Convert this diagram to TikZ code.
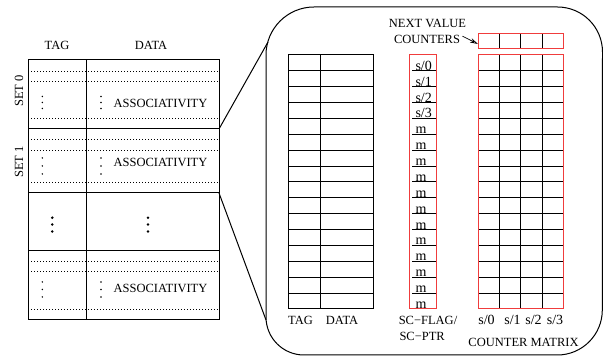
\documentclass[tikz,border=0pt]{standalone}
\usepackage{fontspec}
\setmainfont{Liberation Serif}
\usetikzlibrary{arrows.meta}
\definecolor{cellred}{HTML}{F03C3C}
\begin{document}
\begin{tikzpicture}[x=1pt,y=-1pt,line width=1pt,
  lbl/.style={inner sep=0pt,font=\fontsize{12.5}{14}\selectfont},
  slbl/.style={inner sep=0pt,font=\fontsize{14}{16}\selectfont},
  dotline/.style={line width=0.8pt,dash pattern=on 0.8pt off 2.2pt},
  redbox/.style={draw=cellred,line width=1pt},
  smalldot/.style={radius=0.8},
  bigdot/.style={radius=1.4}]
\useasboundingbox (0,0) rectangle (603,358);

% ---------------- cache organisation (left) ----------------
\draw (28,60) rectangle (219,320);
\draw (86,60) -- (86,320);
\foreach \y in {129,193,251} \draw (28,\y) -- (219,\y);
\foreach \y in {71,81,118,139,150,182,261,271,309}
  \draw[dotline] (28,\y) -- (219,\y);

\node[lbl,anchor=base] (hTag) at (57,50) {TAG};
\node[lbl,anchor=base] (hData) at (151,50) {DATA};
\node[lbl,rotate=90] (set0) at (19,91) {SET 0};
\node[lbl,rotate=90] (set1) at (19,162) {SET 1};

\node[lbl,anchor=base] (as0) at (160.5,108) {ASSOCIATIVITY};
\node[lbl,anchor=base] (as1) at (160.5,167) {ASSOCIATIVITY};
\node[lbl,anchor=base] (as3) at (160.5,293) {ASSOCIATIVITY};

% ways within a set
\foreach \x in {42.3,101} {
  \foreach \y in {96.5,102.5,108.5,158,166,174,282,289.5,297}
    \fill (\x,\y) circle[smalldot];
}
% further sets
\foreach \x in {52.3,148} {
  \foreach \y in {217.7,224.5,231.5}
    \fill (\x,\y) circle[bigdot];
}

% ---------------- enlarged set (right) ----------------
\draw (266,55) arc[start angle=180,end angle=270,radius=48]
  -- (557.5,7) arc[start angle=270,end angle=360,radius=45]
  -- (602.3,310) arc[start angle=0,end angle=90,radius=45]
  -- (304,355) arc[start angle=90,end angle=180,radius=38]
  -- cycle;

\coordinate (s0end) at (219,129);
\coordinate (s1end) at (219,193);
\coordinate (zoomTop) at (268,42);
\coordinate (zoomBot) at (266,320);
\draw (s0end) -- (zoomTop);
\draw (s1end) -- (zoomBot);

% tag / data array
\draw (288,55) rectangle (373,309);
\draw (320,55) -- (320,309);
\foreach \i in {1,...,15}
  \draw (288,{55+15.875*\i}) -- (373,{55+15.875*\i});

% SC-flag / SC-ptr column
\foreach \i in {1,...,15}
  \draw (412,{55+15.875*\i}) -- (436,{55+15.875*\i});
\node[slbl,anchor=base west] (f0) at (415,{55+15.875*1-0.5}) {s/0};
\node[slbl,anchor=base west] (f1) at (415,{55+15.875*2-0.5}) {s/1};
\node[slbl,anchor=base west] (f2) at (415,{55+15.875*3-0.5}) {s/2};
\node[slbl,anchor=base west] (f3) at (415,{55+15.875*4-0.5}) {s/3};
\foreach \i in {5,...,16}
  \node[slbl,anchor=base west] (fm\i) at (415,{55+15.875*\i-0.5}) {m};
\draw[redbox] (409,55) rectangle (436,309);

% counter matrix
\foreach \x in {499.5,520.8,542.1}
  \draw (\x,55) -- (\x,309);
\foreach \i in {1,...,15}
  \draw (478.3,{55+15.875*\i}) -- (563.3,{55+15.875*\i});
\draw[redbox] (478.3,55) rectangle (563.3,309);

% next value counters
\foreach \x in {499.5,520.8,542.1}
  \draw (\x,34) -- (\x,49);
\draw[redbox] (478.3,34) rectangle (563.3,49);

\node[lbl,anchor=base] (nv1) at (427.5,28) {NEXT VALUE};
\node[lbl,anchor=base] (nv2) at (427,44) {COUNTERS};
\coordinate (nvIn) at (478,44);
\draw[line width=0.7pt,-{Stealth[open,length=8pt,width=4.5pt]}]
  ([xshift=2pt,yshift=-1pt]nv2.north east) -- (nvIn);

% column captions
\node[lbl,anchor=base] (cTag) at (300.5,325) {TAG};
\node[lbl,anchor=base] (cData) at (342,325) {DATA};
\node[lbl,anchor=base] (cFlag) at (428,325) {SC−FLAG/};
\node[lbl,anchor=base west] (cPtr) at (399,341) {SC−PTR};
\node[slbl,anchor=base] (c0) at (486.5,325) {s/0};
\node[slbl,anchor=base] (c1) at (512.5,325) {s/1};
\node[slbl,anchor=base] (c2) at (533.5,325) {s/2};
\node[slbl,anchor=base] (c3) at (555,325) {s/3};
\node[lbl,anchor=base] (cMat) at (523.5,346) {COUNTER MATRIX};
\end{tikzpicture}
\end{document}
